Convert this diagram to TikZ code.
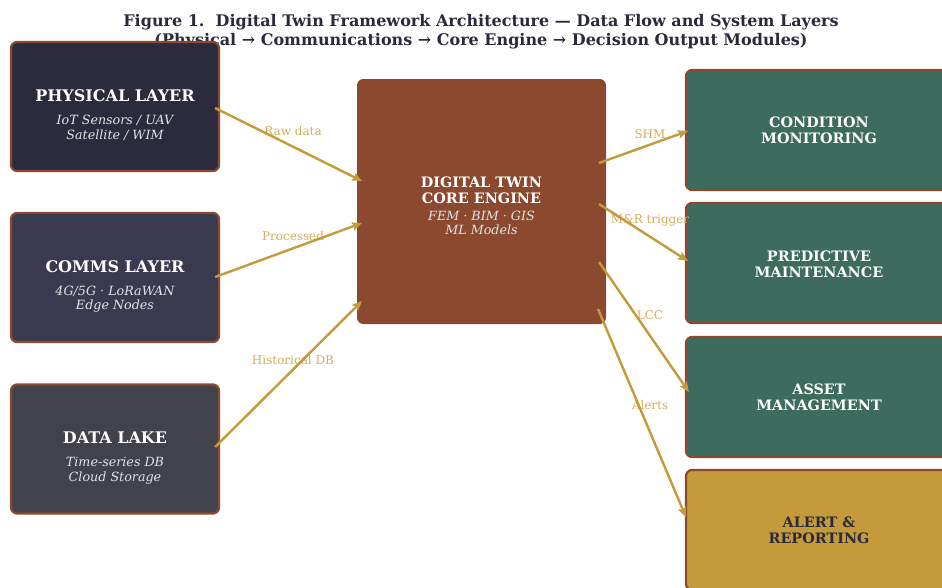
\documentclass[tikz,border=0pt]{standalone}
\usepackage{fontspec}
\setmainfont{DejaVu Serif}
\usetikzlibrary{arrows.meta,calc}
\definecolor{ink}{HTML}{2B2A3C}
\definecolor{physfill}{HTML}{2C2B3D}
\definecolor{commsfill}{HTML}{393A50}
\definecolor{lakefill}{HTML}{42424C}
\definecolor{rust}{HTML}{8B4A2F}
\definecolor{teal}{HTML}{3D6B5D}
\definecolor{gold}{HTML}{C49A3A}
\definecolor{lblgold}{HTML}{D2AE5E}
\definecolor{subgray}{HTML}{E2E2E6}
\tikzset{
  box/.style={draw=rust, line width=2.2pt, rounded corners=6pt, minimum width=208pt, minimum height=129pt, inner sep=0pt},
  outbox/.style={draw=rust, line width=2.2pt, rounded corners=6pt, fill=teal, minimum width=266pt, minimum height=120pt, inner sep=0pt},
  ttl/.style={text=white, font=\bfseries\fontsize{16}{19}\selectfont, inner sep=0pt},
  sub/.style={text=subgray, font=\itshape\fontsize{12.7}{14.5}\selectfont, align=center, inner sep=0pt},
  otxt/.style={text=white, font=\bfseries\fontsize{14.4}{16}\selectfont, align=center, inner sep=0pt},
  flow/.style={draw=gold, line width=2.4pt, -{Stealth[length=10pt,width=8.5pt,inset=2pt]}},
  lbl/.style={text=lblgold, font=\fontsize{12}{14}\selectfont, inner sep=0pt},
  figttl/.style={text=ink, font=\bfseries\fontsize{16}{19}\selectfont, align=center, inner sep=0pt}
}
\begin{document}
\begin{tikzpicture}[x=1pt,y=-1pt]
\useasboundingbox (0,0) rectangle (942,587);
\clip (0,0) rectangle (942,587);
\fill[white] (0,0) rectangle (942,587);

% title
\node[figttl] (title) at (481,31.5) {Figure 1.\ \ Digital Twin Framework Architecture — Data Flow and System Layers\\(Physical → Communications → Core Engine → Decision Output Modules)};

% left boxes
\node[box, fill=physfill] (phys) at (115,106.5) {};
\node[ttl] (physT) at (115,95.5) {PHYSICAL LAYER};
\node[sub] (physS) at (115,128) {IoT Sensors / UAV\\Satellite / WIM};

\node[box, fill=commsfill] (comms) at (115,277.5) {};
\node[ttl] (commsT) at (115,266.5) {COMMS LAYER};
\node[sub] (commsS) at (115,299) {4G/5G · LoRaWAN\\Edge Nodes};

\node[box, fill=lakefill] (lake) at (115,449) {};
\node[ttl] (lakeT) at (115,438) {DATA LAKE};
\node[sub] (lakeS) at (115,470.5) {Time-series DB\\Cloud Storage};

% core
\node[draw=rust, line width=1pt, fill=rust, rounded corners=6pt, minimum width=248pt, minimum height=244pt] (core) at (481.5,201.5) {};
\node[otxt] (coreT) at (481.5,190.5) {DIGITAL TWIN\\CORE ENGINE};
\node[sub, text=subgray] (coreS) at (481.5,223) {FEM · BIM · GIS\\ML Models};

% right boxes
\node[outbox] (cond) at (819,130) {};
\node[otxt] (condT) at (819,130.5) {CONDITION\\MONITORING};
\node[outbox] (pred) at (819,263) {};
\node[otxt] (predT) at (819,264) {PREDICTIVE\\MAINTENANCE};
\node[outbox] (asset) at (819,397) {};
\node[otxt] (assetT) at (819,397) {ASSET\\MANAGEMENT};
\node[outbox, fill=gold] (alert) at (819,530) {};
\node[otxt, text=ink] (alertT) at (819,530) {ALERT \&\\REPORTING};

% connector labels (under the lines)
\node[lbl] (l1) at (293,131.5) {Raw data};
\node[lbl] (l2) at (293,236.5) {Processed};
\node[lbl] (l3) at (293,360) {Historical DB};
\node[lbl] (l4) at (650,134) {SHM};
\node[lbl] (l5) at (650,220.5) {M\&R trigger};
\node[lbl] (l6) at (650,315.5) {LCC};
\node[lbl] (l7) at (650,405.5) {Alerts};

% connectors
\draw[flow] ($(phys.east)+(-5,1.5)$) -- ($(core.north west)+(5,102)$);
\draw[flow] ($(comms.east)+(-5,-0.5)$) -- ($(core.north west)+(5,144)$);
\draw[flow] ($(lake.east)+(-5,-2)$) -- ($(core.north west)+(5,222)$);
\draw[flow] ($(core.north east)+(-7,84)$) -- ($(cond.west)+(3,1)$);
\draw[flow] ($(core.north east)+(-7,125)$) -- ($(pred.west)+(3,-2)$);
\draw[flow] ($(core.north east)+(-7,183)$) -- ($(asset.west)+(4,-5)$);
\draw[flow] ($(core.north east)+(-8,230)$) -- ($(alert.west)+(1,-13)$);
\end{tikzpicture}
\end{document}
